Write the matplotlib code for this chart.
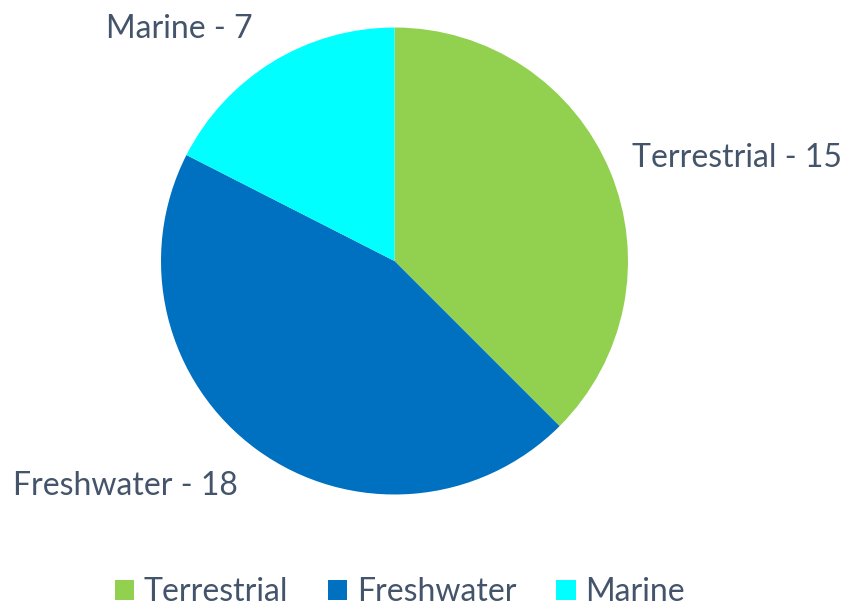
import matplotlib
matplotlib.use("Agg")
import matplotlib.pyplot as plt
from matplotlib.patches import Patch

categories = ["Terrestrial", "Freshwater", "Marine"]
values = [15, 18, 7]
colors = ["#92D050", "#0070C0", "#00FFFF"]
text_color = "#44546A"

plt.rcParams['font.family'] = ['Lato', 'DejaVu Sans']
FS = 23

W, H = 844, 608
fig = plt.figure(figsize=(W / 100, H / 100), dpi=100)
cx, cy, r = 394.5, 261, 233.5
ax = fig.add_axes([(cx - r) / W, (H - cy - r) / H, 2 * r / W, 2 * r / H])

labels = [f"{c} - {v}" for c, v in zip(categories, values)]
wedges, texts = ax.pie(values, colors=colors, startangle=90, counterclock=False,
                       labels=labels, labeldistance=1.1,
                       textprops=dict(color=text_color, fontsize=FS))
# label placement (outside end, as in the reference)
label_pos = [(1.015, 0.44, 'left'), (-0.672, -0.965, 'right'), (-0.608, 0.995, 'right')]
for t, (x, y, ha) in zip(texts, label_pos):
    t.set_position((x, y))
    t.set_ha(ha)
    t.set_va('center')

ax.set_xlim(-1, 1)
ax.set_ylim(-1, 1)
ax.set_aspect('equal')
ax.axis('off')

handles = [Patch(facecolor=c, edgecolor='none') for c in colors]
fig.legend(handles, categories, loc='center', bbox_to_anchor=(400 / W, 1 - 592 / H),
           ncol=3, frameon=False, fontsize=FS, handlelength=0.6, handleheight=0.6,
           handletextpad=0.3, columnspacing=1.25, labelcolor=text_color,
           borderpad=0, borderaxespad=0)

fig.savefig("out.png", dpi=100)
